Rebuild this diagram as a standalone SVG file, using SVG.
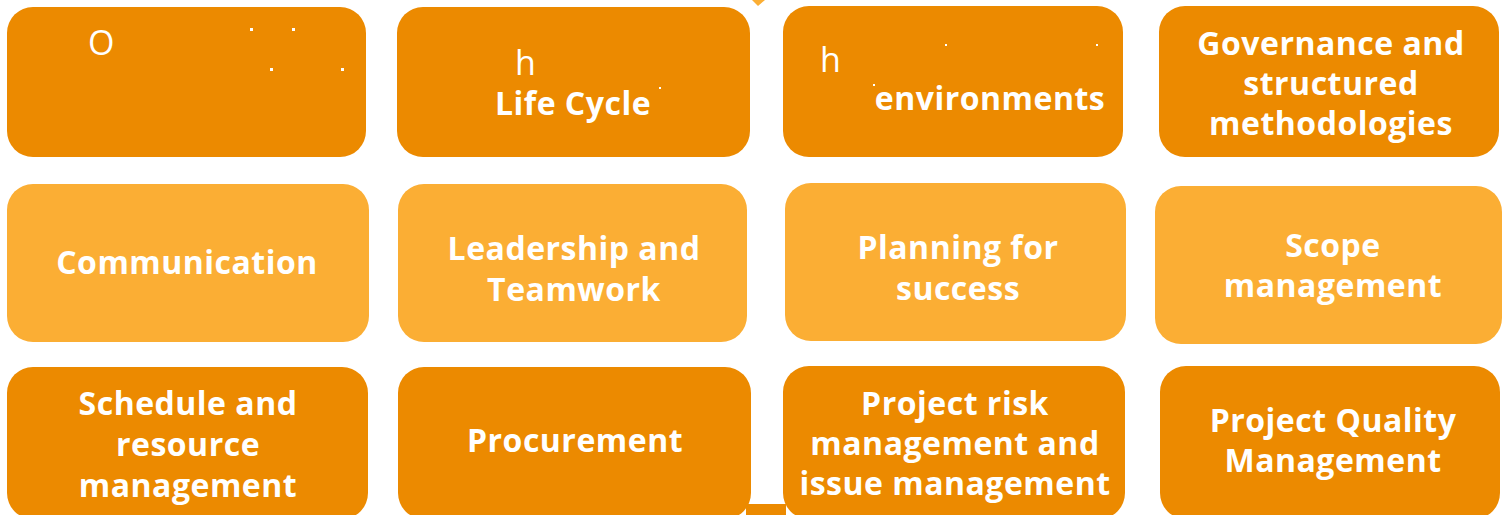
<svg xmlns="http://www.w3.org/2000/svg" width="1507" height="515" viewBox="0 0 1507 515">
<style>
.dk{fill:#EC8A00}
.lt{fill:#FBAE34}
.t{font-family:"Open Sans",Lato,sans-serif;font-weight:700;font-size:32px;letter-spacing:0.5px;fill:#fff;text-anchor:middle}
.r{font-family:"Open Sans",Lato,sans-serif;font-weight:400;font-size:34px;fill:#fff}
.d{fill:#fff}
</style>
<rect width="1507" height="515" fill="#fff"/>
<g id="connectors">
<polygon class="lt" points="752,0 765,0 758,6"/>
<rect class="dk" x="746" y="504" width="40" height="12"/>
</g>
<g id="n1">
<rect class="dk" x="7" y="7" width="359" height="150" rx="26"/>
<text class="r" x="88" y="55">O</text>
<rect class="d" x="250" y="28" width="3" height="3"/>
<rect class="d" x="292" y="28" width="3" height="3"/>
<rect class="d" x="270" y="68" width="3" height="3"/>
<rect class="d" x="341" y="68" width="3" height="3"/>
</g>
<g id="n2">
<rect class="dk" x="397" y="7" width="353" height="150" rx="26"/>
<text class="r" x="515" y="75">h</text>
<text class="t" x="573" y="115">Life Cycle</text>
<rect class="d" x="659" y="87" width="2" height="2"/>
</g>
<g id="n3">
<rect class="dk" x="783" y="6" width="340" height="151" rx="26"/>
<text class="r" x="820" y="72">h</text>
<text class="t" x="990" y="110">environments</text>
<rect class="d" x="945" y="44" width="2" height="2"/>
<rect class="d" x="1096" y="44" width="2" height="2"/>
<rect class="d" x="873" y="84" width="2" height="2"/>
</g>
<g id="n4">
<rect class="dk" x="1159" y="6" width="340" height="151" rx="26"/>
<text class="t" x="1331" y="55">Governance and</text>
<text class="t" x="1331" y="95">structured</text>
<text class="t" x="1331" y="135">methodologies</text>
</g>
<g id="n5">
<rect class="lt" x="7" y="184" width="362" height="158" rx="26"/>
<text class="t" x="187" y="274">Communication</text>
</g>
<g id="n6">
<rect class="lt" x="398" y="184" width="349" height="158" rx="26"/>
<text class="t" x="574" y="260">Leadership and</text>
<text class="t" x="574" y="301">Teamwork</text>
</g>
<g id="n7">
<rect class="lt" x="785" y="183" width="341" height="158" rx="26"/>
<text class="t" x="958" y="259">Planning for</text>
<text class="t" x="958" y="300">success</text>
</g>
<g id="n8">
<rect class="lt" x="1155" y="186" width="347" height="158" rx="26"/>
<text class="t" x="1333" y="257">Scope</text>
<text class="t" x="1333" y="297">management</text>
</g>
<g id="n9">
<rect class="dk" x="7" y="367" width="361" height="152" rx="26"/>
<text class="t" x="188" y="415">Schedule and</text>
<text class="t" x="188" y="456">resource</text>
<text class="t" x="188" y="497">management</text>
</g>
<g id="n10">
<rect class="dk" x="398" y="367" width="353" height="152" rx="26"/>
<text class="t" x="575" y="452">Procurement</text>
</g>
<g id="n11">
<rect class="dk" x="783" y="366" width="342" height="153" rx="26"/>
<text class="t" x="955" y="415">Project risk</text>
<text class="t" x="955" y="455">management and</text>
<text class="t" x="955" y="495">issue management</text>
</g>
<g id="n12">
<rect class="dk" x="1160" y="366" width="340" height="153" rx="26"/>
<text class="t" x="1333" y="432">Project Quality</text>
<text class="t" x="1333" y="472">Management</text>
</g>
</svg>
